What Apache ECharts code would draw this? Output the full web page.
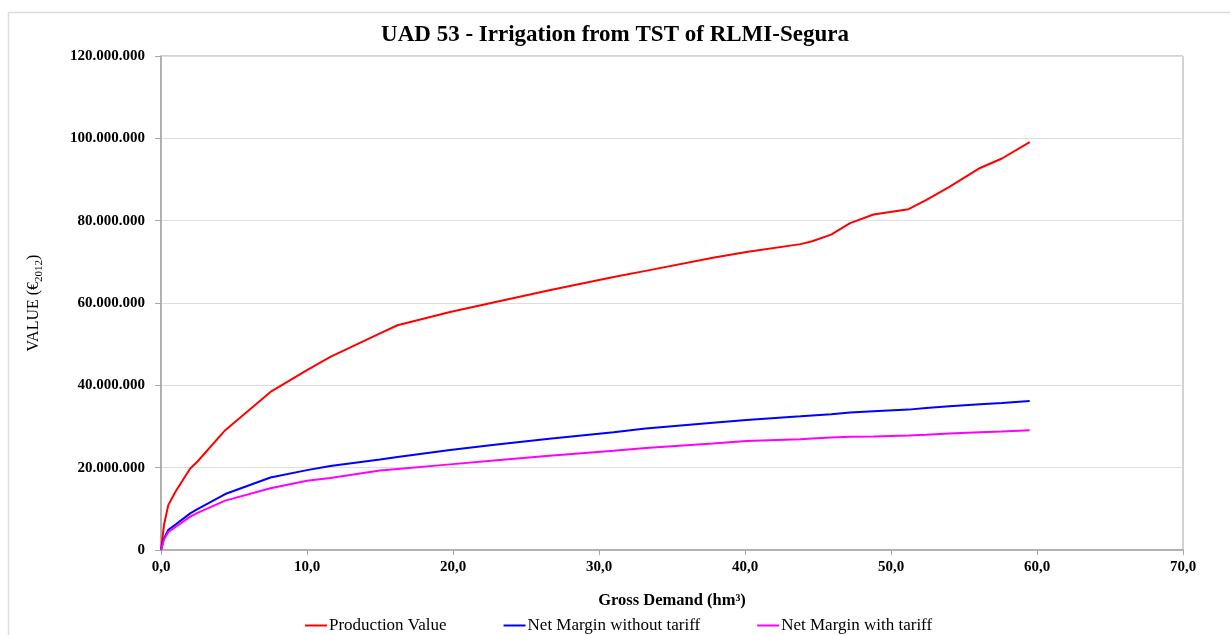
<!DOCTYPE html>
<html>
<head>
<meta charset="utf-8">
<script src="https://cdn.jsdelivr.net/npm/echarts@6/dist/echarts.min.js"></script>
<style>
  html, body { margin: 0; padding: 0; background: #fff; }
  #main { width: 1230px; height: 635px; }
</style>
</head>
<body>
<div id="main"></div>
<script>
// gross demand (hm3)
var demand = [0, 0.2, 0.5, 1.0, 2.0, 2.5, 4.4, 7.5, 10.0, 11.6, 15.0, 16.2, 19.8, 23.0, 26.6, 31.0, 33.2,
  37.8, 40.1, 43.8, 44.6, 45.9, 47.2, 48.8, 51.2, 52.4, 54.0, 56.1, 57.6, 59.5];
// valores en millones de euros
var productionValue = [0, 6.0, 10.9, 14.2, 19.8, 21.5, 29.1, 38.4, 43.7, 46.9, 52.6, 54.6, 57.8, 60.3, 63.1, 66.3, 67.8,
  71.0, 72.4, 74.3, 75.0, 76.6, 79.4, 81.5, 82.8, 85.0, 88.2, 92.8, 95.1, 99.1];
var marginNoTariff = [0, 2.8, 4.9, 6.2, 8.9, 9.9, 13.6, 17.6, 19.4, 20.4, 22.0, 22.6, 24.3, 25.6, 27.0, 28.6, 29.5,
  30.9, 31.6, 32.5, 32.7, 33.0, 33.4, 33.7, 34.1, 34.5, 34.9, 35.4, 35.7, 36.2];
var marginTariff = [0, 2.5, 4.4, 5.6, 8.1, 9.0, 12.0, 15.0, 16.8, 17.5, 19.3, 19.7, 20.8, 21.8, 22.9, 24.1, 24.8,
  25.9, 26.5, 26.9, 27.1, 27.3, 27.5, 27.6, 27.8, 28.0, 28.3, 28.6, 28.8, 29.1];
var seriesNames = ['Production Value', 'Net Margin without tariff', 'Net Margin with tariff'];

function pairs(vals) {
  return demand.map(function (d, i) { return [d, vals[i] * 1e6]; });
}

var serif = '"Liberation Serif", "DejaVu Serif", serif';
var myChart = echarts.init(document.getElementById('main'));
myChart.setOption({
  animation: false,
  title: {
    text: 'UAD 53 - Irrigation from TST of RLMI-Segura',
    left: 'center',
    top: 19,
    textStyle: { fontFamily: serif, fontSize: 23, fontWeight: 'bold', color: '#000' }
  },
  graphic: [{
    type: 'rect',
    shape: { x: 8.5, y: 12.5, width: 1240, height: 640 },
    style: { fill: null, stroke: '#dcdcdc', lineWidth: 1.5 },
    silent: true
  }],
  legend: {
    left: 300,
    top: 612,
    itemGap: 57,
    itemWidth: 22,
    itemHeight: 2,
    icon: 'rect',
    textStyle: { fontFamily: serif, fontSize: 17, color: '#000', padding: [0, 0, 0, -3] },
    data: seriesNames
  },
  grid: {
    left: 161, right: 47, top: 56, bottom: 85,
    show: true, borderColor: '#a6a6a6', borderWidth: 1
  },
  xAxis: {
    type: 'value',
    min: 0, max: 70, interval: 10,
    name: 'Gross Demand (hm³)',
    nameLocation: 'middle',
    nameGap: 42,
    nameTextStyle: { fontFamily: serif, fontSize: 16.5, fontWeight: 'bold', color: '#000' },
    axisLine: { lineStyle: { color: '#a6a6a6', width: 1.5 } },
    axisTick: { show: true, length: 5, lineStyle: { color: '#a6a6a6' } },
    axisLabel: {
      fontFamily: serif, fontSize: 15, fontWeight: 'bold', color: '#000', margin: 10,
      formatter: function (v) { return v.toFixed(1).replace('.', ','); }
    },
    splitLine: { show: false }
  },
  yAxis: {
    type: 'value',
    min: 0, max: 120000000, interval: 20000000,
    name: 'VALUE (€{sub|2012})',
    nameLocation: 'middle',
    nameGap: 116,
    nameTextStyle: {
      fontFamily: serif, fontSize: 16, color: '#000', lineHeight: 22,
      rich: { sub: { fontFamily: serif, fontSize: 11, color: '#000', verticalAlign: 'bottom', lineHeight: 14, padding: [8, 0, 0, 0] } }
    },
    axisLine: { show: true, lineStyle: { color: '#a6a6a6', width: 1.5 } },
    axisTick: { show: true, length: 6, lineStyle: { color: '#a6a6a6' } },
    axisLabel: {
      fontFamily: serif, fontSize: 15, fontWeight: 'bold', color: '#000', margin: 16,
      formatter: function (v) { return String(v).replace(/\B(?=(\d{3})+(?!\d))/g, '.'); }
    },
    splitLine: { lineStyle: { color: '#dedede', width: 1 } }
  },
  series: [
    { name: seriesNames[0], type: 'line', data: pairs(productionValue), showSymbol: false,
      itemStyle: { color: '#ff0000' }, lineStyle: { color: '#ff0000', width: 2 } },
    { name: seriesNames[1], type: 'line', data: pairs(marginNoTariff), showSymbol: false,
      itemStyle: { color: '#0000ff' }, lineStyle: { color: '#0000ff', width: 2 } },
    { name: seriesNames[2], type: 'line', data: pairs(marginTariff), showSymbol: false,
      itemStyle: { color: '#ff00ff' }, lineStyle: { color: '#ff00ff', width: 2 } }
  ]
});
</script>
</body>
</html>
